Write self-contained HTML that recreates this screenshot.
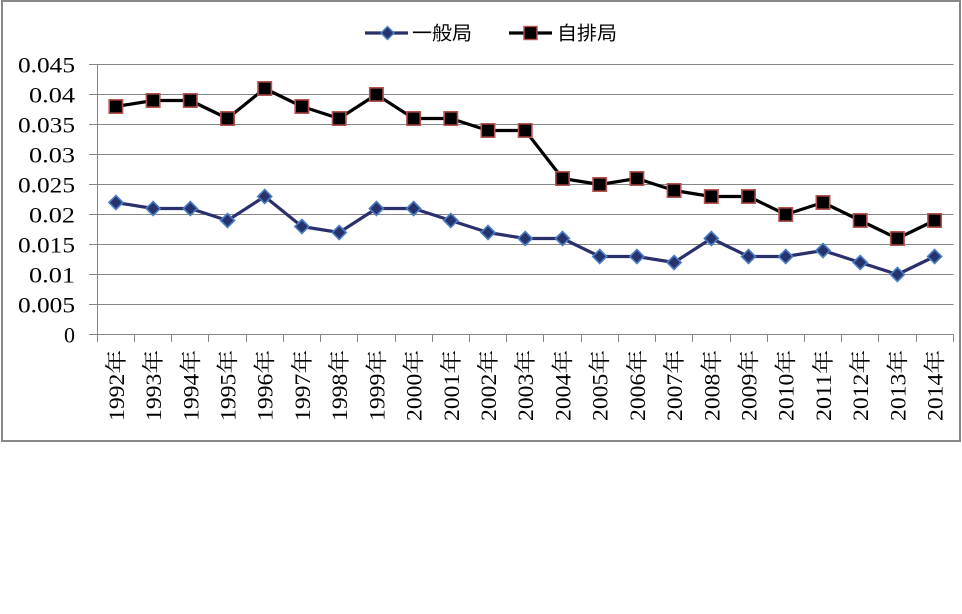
<!DOCTYPE html>
<html><head><meta charset="utf-8"><style>
html,body{margin:0;padding:0;background:#fff;}
svg{display:block;}
</style></head><body>
<svg width="962" height="614" viewBox="0 0 962 614" xmlns="http://www.w3.org/2000/svg">
<rect x="0" y="0" width="962" height="614" fill="#fff"/>
<rect x="2" y="1" width="958" height="440" fill="#fff" stroke="#878787" stroke-width="2"/>
<g stroke="#868686" stroke-width="1" fill="none">
<line x1="89" y1="64.5" x2="953.5" y2="64.5"/>
<line x1="89" y1="94.5" x2="953.5" y2="94.5"/>
<line x1="89" y1="124.5" x2="953.5" y2="124.5"/>
<line x1="89" y1="154.5" x2="953.5" y2="154.5"/>
<line x1="89" y1="184.5" x2="953.5" y2="184.5"/>
<line x1="89" y1="214.5" x2="953.5" y2="214.5"/>
<line x1="89" y1="244.5" x2="953.5" y2="244.5"/>
<line x1="89" y1="274.5" x2="953.5" y2="274.5"/>
<line x1="89" y1="304.5" x2="953.5" y2="304.5"/>
<line x1="89" y1="334.5" x2="953.5" y2="334.5"/>
<line x1="97.5" y1="64.5" x2="97.5" y2="342"/>
<line x1="134.5" y1="334.5" x2="134.5" y2="342"/>
<line x1="171.5" y1="334.5" x2="171.5" y2="342"/>
<line x1="208.5" y1="334.5" x2="208.5" y2="342"/>
<line x1="246.5" y1="334.5" x2="246.5" y2="342"/>
<line x1="283.5" y1="334.5" x2="283.5" y2="342"/>
<line x1="320.5" y1="334.5" x2="320.5" y2="342"/>
<line x1="357.5" y1="334.5" x2="357.5" y2="342"/>
<line x1="395.5" y1="334.5" x2="395.5" y2="342"/>
<line x1="432.5" y1="334.5" x2="432.5" y2="342"/>
<line x1="469.5" y1="334.5" x2="469.5" y2="342"/>
<line x1="506.5" y1="334.5" x2="506.5" y2="342"/>
<line x1="543.5" y1="334.5" x2="543.5" y2="342"/>
<line x1="581.5" y1="334.5" x2="581.5" y2="342"/>
<line x1="618.5" y1="334.5" x2="618.5" y2="342"/>
<line x1="655.5" y1="334.5" x2="655.5" y2="342"/>
<line x1="692.5" y1="334.5" x2="692.5" y2="342"/>
<line x1="730.5" y1="334.5" x2="730.5" y2="342"/>
<line x1="767.5" y1="334.5" x2="767.5" y2="342"/>
<line x1="804.5" y1="334.5" x2="804.5" y2="342"/>
<line x1="841.5" y1="334.5" x2="841.5" y2="342"/>
<line x1="878.5" y1="334.5" x2="878.5" y2="342"/>
<line x1="916.5" y1="334.5" x2="916.5" y2="342"/>
<line x1="953.5" y1="334.5" x2="953.5" y2="342"/>
</g>
<g font-family="Liberation Serif, serif" font-size="22" fill="#000" text-anchor="end">
<text x="75" y="72.5" textLength="57" lengthAdjust="spacingAndGlyphs">0.045</text>
<text x="75" y="102.5" textLength="46" lengthAdjust="spacingAndGlyphs">0.04</text>
<text x="75" y="132.5" textLength="57" lengthAdjust="spacingAndGlyphs">0.035</text>
<text x="75" y="162.5" textLength="46" lengthAdjust="spacingAndGlyphs">0.03</text>
<text x="75" y="192.5" textLength="57" lengthAdjust="spacingAndGlyphs">0.025</text>
<text x="75" y="222.5" textLength="46" lengthAdjust="spacingAndGlyphs">0.02</text>
<text x="75" y="252.5" textLength="57" lengthAdjust="spacingAndGlyphs">0.015</text>
<text x="75" y="282.5" textLength="46" lengthAdjust="spacingAndGlyphs">0.01</text>
<text x="75" y="312.5" textLength="57" lengthAdjust="spacingAndGlyphs">0.005</text>
<text x="75" y="342.5">0</text>
</g>
<g font-family="Liberation Serif, 'Noto Serif CJK SC', serif" font-size="22" fill="#000" text-anchor="end">
<text transform="translate(124,350) rotate(-90)" textLength="71" lengthAdjust="spacingAndGlyphs">1992年</text>
<text transform="translate(161.1,350) rotate(-90)" textLength="71" lengthAdjust="spacingAndGlyphs">1993年</text>
<text transform="translate(198.3,350) rotate(-90)" textLength="71" lengthAdjust="spacingAndGlyphs">1994年</text>
<text transform="translate(235.5,350) rotate(-90)" textLength="71" lengthAdjust="spacingAndGlyphs">1995年</text>
<text transform="translate(272.7,350) rotate(-90)" textLength="71" lengthAdjust="spacingAndGlyphs">1996年</text>
<text transform="translate(309.9,350) rotate(-90)" textLength="71" lengthAdjust="spacingAndGlyphs">1997年</text>
<text transform="translate(347.2,350) rotate(-90)" textLength="71" lengthAdjust="spacingAndGlyphs">1998年</text>
<text transform="translate(384.4,350) rotate(-90)" textLength="71" lengthAdjust="spacingAndGlyphs">1999年</text>
<text transform="translate(421.6,350) rotate(-90)" textLength="71" lengthAdjust="spacingAndGlyphs">2000年</text>
<text transform="translate(458.8,350) rotate(-90)" textLength="71" lengthAdjust="spacingAndGlyphs">2001年</text>
<text transform="translate(496,350) rotate(-90)" textLength="71" lengthAdjust="spacingAndGlyphs">2002年</text>
<text transform="translate(533.2,350) rotate(-90)" textLength="71" lengthAdjust="spacingAndGlyphs">2003年</text>
<text transform="translate(570.5,350) rotate(-90)" textLength="71" lengthAdjust="spacingAndGlyphs">2004年</text>
<text transform="translate(607.7,350) rotate(-90)" textLength="71" lengthAdjust="spacingAndGlyphs">2005年</text>
<text transform="translate(644.9,350) rotate(-90)" textLength="71" lengthAdjust="spacingAndGlyphs">2006年</text>
<text transform="translate(682.1,350) rotate(-90)" textLength="71" lengthAdjust="spacingAndGlyphs">2007年</text>
<text transform="translate(719.3,350) rotate(-90)" textLength="71" lengthAdjust="spacingAndGlyphs">2008年</text>
<text transform="translate(756.5,350) rotate(-90)" textLength="71" lengthAdjust="spacingAndGlyphs">2009年</text>
<text transform="translate(793.7,350) rotate(-90)" textLength="71" lengthAdjust="spacingAndGlyphs">2010年</text>
<text transform="translate(831,350) rotate(-90)" textLength="71" lengthAdjust="spacingAndGlyphs">2011年</text>
<text transform="translate(868.2,350) rotate(-90)" textLength="71" lengthAdjust="spacingAndGlyphs">2012年</text>
<text transform="translate(905.4,350) rotate(-90)" textLength="71" lengthAdjust="spacingAndGlyphs">2013年</text>
<text transform="translate(942.6,350) rotate(-90)" textLength="71" lengthAdjust="spacingAndGlyphs">2014年</text>
</g>
<!-- 自排局 -->
<polyline fill="none" stroke="#000" stroke-width="3.2" stroke-linejoin="round" points="115.9,106.5 153.1,100.5 190.3,100.5 227.5,118.5 264.7,88.5 301.9,106.5 339.2,118.5 376.4,94.5 413.6,118.5 450.8,118.5 488,130.5 525.2,130.5 562.5,178.5 599.7,184.5 636.9,178.5 674.1,190.5 711.3,196.5 748.5,196.5 785.7,214.5 823,202.5 860.2,220.5 897.4,238.5 934.6,220.5"/>
<!-- 一般局 -->
<polyline fill="none" stroke="#2b2f6c" stroke-width="3.2" stroke-linejoin="round" points="115.9,202.5 153.1,208.5 190.3,208.5 227.5,220.5 264.7,196.5 301.9,226.5 339.2,232.5 376.4,208.5 413.6,208.5 450.8,220.5 488,232.5 525.2,238.5 562.5,238.5 599.7,256.5 636.9,256.5 674.1,262.5 711.3,238.5 748.5,256.5 785.7,256.5 823,250.5 860.2,262.5 897.4,274.5 934.6,256.5"/>
<g fill="#000" stroke="#b9524f" stroke-width="1.6">
<rect x="109.2" y="99.8" width="13.4" height="13.4"/>
<rect x="146.4" y="93.8" width="13.4" height="13.4"/>
<rect x="183.6" y="93.8" width="13.4" height="13.4"/>
<rect x="220.8" y="111.8" width="13.4" height="13.4"/>
<rect x="258" y="81.8" width="13.4" height="13.4"/>
<rect x="295.2" y="99.8" width="13.4" height="13.4"/>
<rect x="332.5" y="111.8" width="13.4" height="13.4"/>
<rect x="369.7" y="87.8" width="13.4" height="13.4"/>
<rect x="406.9" y="111.8" width="13.4" height="13.4"/>
<rect x="444.1" y="111.8" width="13.4" height="13.4"/>
<rect x="481.3" y="123.8" width="13.4" height="13.4"/>
<rect x="518.5" y="123.8" width="13.4" height="13.4"/>
<rect x="555.8" y="171.8" width="13.4" height="13.4"/>
<rect x="593" y="177.8" width="13.4" height="13.4"/>
<rect x="630.2" y="171.8" width="13.4" height="13.4"/>
<rect x="667.4" y="183.8" width="13.4" height="13.4"/>
<rect x="704.6" y="189.8" width="13.4" height="13.4"/>
<rect x="741.8" y="189.8" width="13.4" height="13.4"/>
<rect x="779" y="207.8" width="13.4" height="13.4"/>
<rect x="816.3" y="195.8" width="13.4" height="13.4"/>
<rect x="853.5" y="213.8" width="13.4" height="13.4"/>
<rect x="890.7" y="231.8" width="13.4" height="13.4"/>
<rect x="927.9" y="213.8" width="13.4" height="13.4"/>
</g>
<g fill="#27336f" stroke="#4a7ec2" stroke-width="1.6">
<path d="M115.9,195.5 l7,7 l-7,7 l-7,-7z"/>
<path d="M153.1,201.5 l7,7 l-7,7 l-7,-7z"/>
<path d="M190.3,201.5 l7,7 l-7,7 l-7,-7z"/>
<path d="M227.5,213.5 l7,7 l-7,7 l-7,-7z"/>
<path d="M264.7,189.5 l7,7 l-7,7 l-7,-7z"/>
<path d="M301.9,219.5 l7,7 l-7,7 l-7,-7z"/>
<path d="M339.2,225.5 l7,7 l-7,7 l-7,-7z"/>
<path d="M376.4,201.5 l7,7 l-7,7 l-7,-7z"/>
<path d="M413.6,201.5 l7,7 l-7,7 l-7,-7z"/>
<path d="M450.8,213.5 l7,7 l-7,7 l-7,-7z"/>
<path d="M488,225.5 l7,7 l-7,7 l-7,-7z"/>
<path d="M525.2,231.5 l7,7 l-7,7 l-7,-7z"/>
<path d="M562.5,231.5 l7,7 l-7,7 l-7,-7z"/>
<path d="M599.7,249.5 l7,7 l-7,7 l-7,-7z"/>
<path d="M636.9,249.5 l7,7 l-7,7 l-7,-7z"/>
<path d="M674.1,255.5 l7,7 l-7,7 l-7,-7z"/>
<path d="M711.3,231.5 l7,7 l-7,7 l-7,-7z"/>
<path d="M748.5,249.5 l7,7 l-7,7 l-7,-7z"/>
<path d="M785.7,249.5 l7,7 l-7,7 l-7,-7z"/>
<path d="M823,243.5 l7,7 l-7,7 l-7,-7z"/>
<path d="M860.2,255.5 l7,7 l-7,7 l-7,-7z"/>
<path d="M897.4,267.5 l7,7 l-7,7 l-7,-7z"/>
<path d="M934.6,249.5 l7,7 l-7,7 l-7,-7z"/>
</g>
<!-- legend -->
<line x1="365" y1="33" x2="408" y2="33" stroke="#2b2f6c" stroke-width="3.2"/>
<path d="M387.5,26.5 l6.5,6.5 l-6.5,6.5 l-6.5,-6.5z" fill="#27336f" stroke="#4a7ec2" stroke-width="1.4"/>
<text x="412" y="39.5" font-family="'Liberation Sans','Noto Sans CJK JP',sans-serif" font-size="19" fill="#000" textLength="60" lengthAdjust="spacingAndGlyphs">一般局</text>
<line x1="509" y1="33" x2="552" y2="33" stroke="#000" stroke-width="3.2"/>
<rect x="524" y="26.5" width="13" height="13" fill="#000" stroke="#b9524f" stroke-width="1.4"/>
<text x="557" y="39.5" font-family="'Liberation Sans','Noto Sans CJK JP',sans-serif" font-size="19" fill="#000" textLength="60" lengthAdjust="spacingAndGlyphs">自排局</text>
</svg>
</body></html>
